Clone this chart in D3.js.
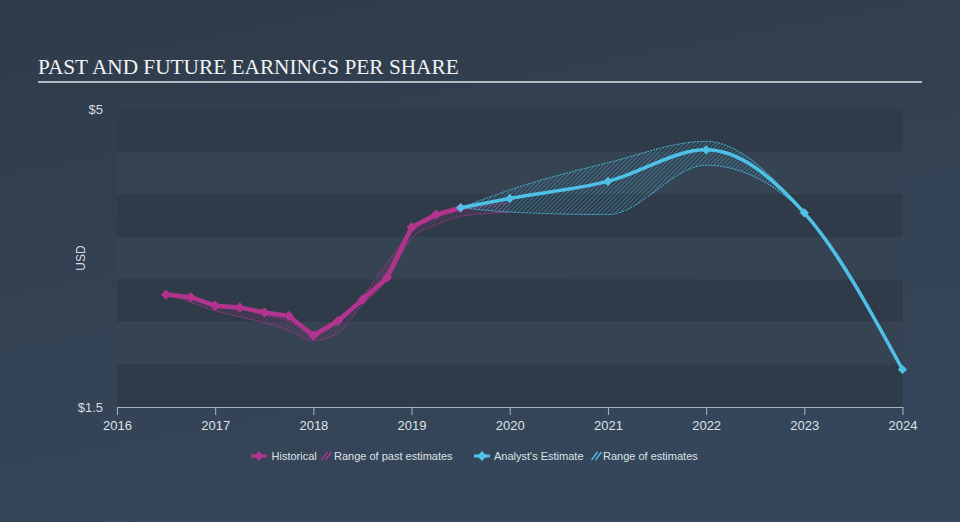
<!DOCTYPE html>
<html><head><meta charset="utf-8">
<script src="https://cdn.jsdelivr.net/npm/d3@7"></script>
<style>html,body{margin:0;padding:0;background:#333f4e;}svg{display:block;}</style>
</head><body>
<svg id="chart" width="960" height="522"></svg>
<script>
// ---- data ----
const title = "PAST AND FUTURE EARNINGS PER SHARE";
const yTicks = [1.5, 5];
const xTickYears = [2016, 2017, 2018, 2019, 2020, 2021, 2022, 2023, 2024];

const histDates = [2016.5, 2016.75, 2017, 2017.25, 2017.5, 2017.75, 2018, 2018.25, 2018.5, 2018.75, 2019, 2019.25, 2019.5];
const histEPS   = [2.82, 2.79, 2.69, 2.67, 2.61, 2.57, 2.34, 2.51, 2.76, 3.02, 3.61, 3.76, 3.84];

const pastRangeDates = [2016.5, 2016.75, 2017, 2017.25, 2017.5, 2017.75, 2018, 2018.25, 2018.5, 2018.75, 2019, 2019.25, 2019.5, 2019.75, 2020];
const pastRangeHigh  = [2.82, 2.79, 2.70, 2.66, 2.58, 2.51, 2.38, 2.50, 2.80, 3.19, 3.56, 3.72, 3.81, 3.86, 3.90];
const pastRangeLow   = [2.82, 2.73, 2.63, 2.56, 2.49, 2.40, 2.28, 2.37, 2.70, 2.99, 3.48, 3.64, 3.74, 3.77, 3.79];

const estDates = [2019.5, 2020, 2021, 2022, 2023, 2024];
const estEPS   = [3.84, 3.95, 4.15, 4.52, 3.78, 1.94];
const estHigh  = [3.84, 4.05, 4.37, 4.62, 3.78, 1.94];
const estLow   = [3.84, 3.79, 3.76, 4.34, 3.78, 1.94];

const legendItems = ["Historical", "Range of past estimates", "Analyst's Estimate", "Range of estimates"];

// ---- drawing ----
const svg = d3.select("#chart");
const W = 960, H = 522;
const C_HIST = "#b3348f", C_EST = "#4fc1e9";
const defs = svg.append("defs");

const bg = defs.append("linearGradient").attr("id","bg").attr("x1","0").attr("y1","0").attr("x2","0.35").attr("y2","1");
bg.append("stop").attr("offset","0%").attr("stop-color","#2f3b4a");
bg.append("stop").attr("offset","100%").attr("stop-color","#36465a");
svg.append("rect").attr("width",W).attr("height",H).attr("fill","url(#bg)");

function hatch(id, color){
  const p = defs.append("pattern").attr("id",id).attr("patternUnits","userSpaceOnUse")
    .attr("width",3).attr("height",3).attr("patternTransform","rotate(45)");
  p.append("line").attr("x1",0).attr("y1",0).attr("x2",0).attr("y2",3)
    .attr("stroke",color).attr("stroke-width",1).attr("stroke-opacity",0.75);
}
hatch("hatchPast", C_HIST);
hatch("hatchEst", C_EST);

const x = d3.scaleLinear().domain([2016, 2024]).range([117, 902.5]);
const y = d3.scaleLinear().domain([1.5, 5]).range([407, 109]);

// bands
const bandVals = d3.range(1.5, 5, 0.5);
svg.append("g").selectAll("rect").data(bandVals).join("rect")
  .attr("x", x(2016)).attr("width", x(2024) - x(2016))
  .attr("y", d => y(d + 0.5)).attr("height", d => y(d) - y(d + 0.5))
  .attr("fill", (d, i) => (6 - i) % 2 === 0 ? "#2f3b49" : "#354352");

// title
svg.append("text").attr("x", 38).attr("y", 74).text(title)
  .attr("font-family", "'Liberation Serif', 'DejaVu Serif', serif").attr("font-size", 21.3)
  .attr("fill", "#f2f3f5");
svg.append("line").attr("x1", 38).attr("x2", 922).attr("y1", 82).attr("y2", 82)
  .attr("stroke", "#b4bac2").attr("stroke-width", 2);

// y labels
svg.append("g").selectAll("text").data(yTicks).join("text")
  .attr("x", 103).attr("y", d => y(d)).attr("dy", "0.35em").attr("text-anchor", "end")
  .attr("font-family", "'Liberation Sans', Arial, sans-serif").attr("font-size", 13)
  .attr("fill", "#d6dbe1").text(d => "$" + d);
svg.append("text").attr("transform", "translate(85,258) rotate(-90)").attr("text-anchor", "middle")
  .attr("font-family", "'Liberation Sans', Arial, sans-serif").attr("font-size", 12)
  .attr("fill", "#d6dbe1").text("USD");

// x axis
const xAxis = d3.axisBottom(x).tickValues(xTickYears).tickFormat(d3.format("d")).tickSize(8).tickSizeOuter(0);
const gx = svg.append("g").attr("transform", `translate(0,${y(1.5)})`).call(xAxis);
gx.select(".domain").attr("stroke", "#a9b5c2");
gx.selectAll(".tick line").attr("stroke", "#a9b5c2");
gx.selectAll(".tick text").attr("fill", "#dde1e6").attr("font-size", 13)
  .attr("font-family", "'Liberation Sans', Arial, sans-serif").attr("dy", "0.95em");

// ranges
function area(dates, hi, lo){
  return d3.area().x((d, i) => x(dates[i])).y0((d, i) => y(lo[i])).y1((d, i) => y(hi[i]))
    .curve(d3.curveMonotoneX)(dates);
}
function edge(dates, vals){
  return d3.line().x((d, i) => x(dates[i])).y((d, i) => y(vals[i])).curve(d3.curveMonotoneX)(dates);
}
function drawRange(dates, hi, lo, pat, color){
  svg.append("path").attr("d", area(dates, hi, lo)).attr("fill", `url(#${pat})`);
  [hi, lo].forEach(v => svg.append("path").attr("d", edge(dates, v)).attr("fill", "none")
    .attr("stroke", color).attr("stroke-width", 1).attr("stroke-dasharray", "2,1").attr("stroke-opacity", 0.85));
}
drawRange(pastRangeDates, pastRangeHigh, pastRangeLow, "hatchPast", C_HIST);
drawRange(estDates, estHigh, estLow, "hatchEst", C_EST);

// historical line
svg.append("path").attr("d", d3.line().x((d, i) => x(histDates[i])).y((d, i) => y(histEPS[i]))(histDates))
  .attr("fill", "none").attr("stroke", C_HIST).attr("stroke-width", 4.5).attr("stroke-linejoin", "round");
const diamond = s => d3.symbol(d3.symbolSquare, s)();
svg.append("g").selectAll("path").data(histDates).join("path")
  .attr("d", diamond(52))
  .attr("transform", (d, i) => `translate(${x(d)},${y(histEPS[i])}) rotate(45)`)
  .attr("fill", C_HIST);

// estimate line
svg.append("path").attr("d", d3.line().x((d, i) => x(estDates[i])).y((d, i) => y(estEPS[i])).curve(d3.curveMonotoneX)(estDates))
  .attr("fill", "none").attr("stroke", C_EST).attr("stroke-width", 3.5).attr("stroke-linecap", "round");
svg.append("g").selectAll("path").data(estDates).join("path")
  .attr("d", diamond(42))
  .attr("transform", (d, i) => `translate(${x(d)},${y(estEPS[i])}) rotate(45)`)
  .attr("fill", C_EST);

// legend
const lg = svg.append("g").attr("font-family", "'Liberation Sans', Arial, sans-serif").attr("font-size", 11).attr("fill", "#dde1e6");
function lineIcon(cx, color){
  lg.append("line").attr("x1", cx - 8).attr("x2", cx + 8).attr("y1", 456).attr("y2", 456).attr("stroke", color).attr("stroke-width", 3);
  lg.append("path").attr("d", diamond(48)).attr("transform", `translate(${cx},456) rotate(45)`).attr("fill", color);
}
function hatchIcon(x0, color){
  [0, 4].forEach(o => lg.append("line").attr("x1", x0 + o).attr("y1", 460).attr("x2", x0 + o + 6).attr("y2", 452)
    .attr("stroke", color).attr("stroke-width", 1.3));
}
lineIcon(259, C_HIST);
lg.append("text").attr("x", 271.5).attr("y", 460).text(legendItems[0]);
hatchIcon(321.5, C_HIST);
lg.append("text").attr("x", 334).attr("y", 460).text(legendItems[1]);
lineIcon(482, C_EST);
lg.append("text").attr("x", 494).attr("y", 460).text(legendItems[2]);
hatchIcon(591.5, C_EST);
lg.append("text").attr("x", 603).attr("y", 460).text(legendItems[3]);
</script>
</body></html>
